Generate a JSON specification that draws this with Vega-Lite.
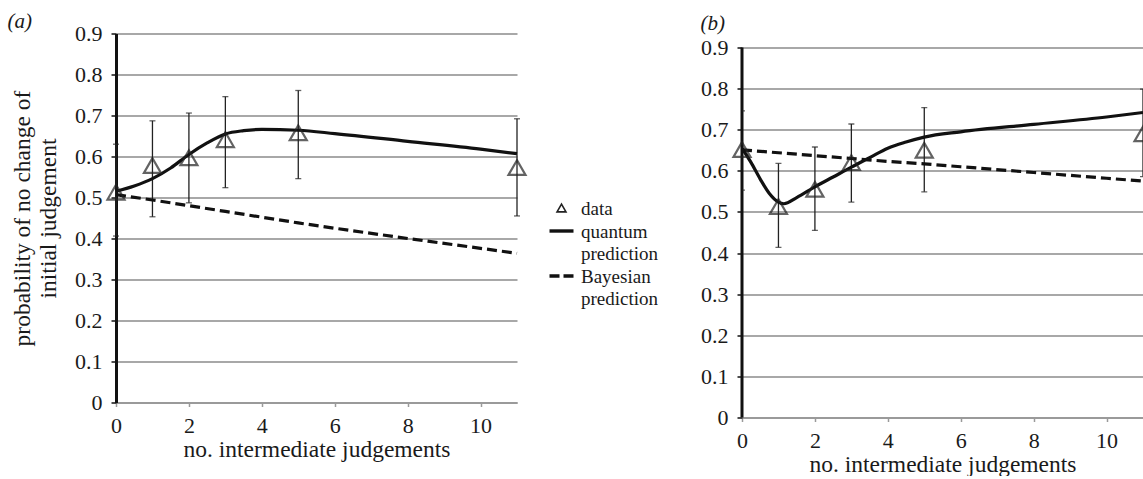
{
  "$schema": "https://vega.github.io/schema/vega-lite/v6.json",
  "background": "white",
  "padding": {"left": 7, "top": 10.5, "right": 0, "bottom": 0},
  "spacing": 41,
  "config": {
    "font": "Liberation Serif",
    "view": {"stroke": null},
    "axis": {"labelFont": "Liberation Serif", "titleFont": "Liberation Serif", "labelFontSize": 22, "titleFontSize": 23.5, "titleFontWeight": "normal", "labelColor": "#1a1a1a", "titleColor": "#1a1a1a", "labelFlush": false},
    "axisX": {"domainColor": "#9a9a9a", "domainWidth": 2, "tickColor": "#9a9a9a", "tickSize": 4, "tickWidth": 1.5, "labelPadding": 8.5, "titlePadding": 1, "grid": false},
    "axisY": {"domainColor": "#111111", "domainWidth": 3, "tickColor": "#111111", "tickSize": 5, "tickWidth": 1.5, "labelPadding": 9, "titlePadding": 14, "grid": true, "gridColor": "#a8a8a8", "gridWidth": 2, "titleLineHeight": 26},
    "title": {"font": "Liberation Serif", "fontSize": 21, "fontWeight": "normal", "fontStyle": "italic", "color": "#1a1a1a"}
  },
  "datasets": {
    "a_points": [
      {"x": 0, "y": 0.513, "lo": 0.406, "hi": 0.630, "series": "data"},
      {"x": 1, "y": 0.578, "lo": 0.453, "hi": 0.687, "series": "data"},
      {"x": 2, "y": 0.597, "lo": 0.487, "hi": 0.706, "series": "data"},
      {"x": 3, "y": 0.641, "lo": 0.524, "hi": 0.746, "series": "data"},
      {"x": 5, "y": 0.658, "lo": 0.546, "hi": 0.761, "series": "data"},
      {"x": 11, "y": 0.573, "lo": 0.455, "hi": 0.692, "series": "data"}
    ],
    "a_quantum": [
      {"x": 0, "y": 0.515, "series": "quantum prediction"},
      {"x": 0.5, "y": 0.528, "series": "quantum prediction"},
      {"x": 1, "y": 0.546, "series": "quantum prediction"},
      {"x": 1.5, "y": 0.572, "series": "quantum prediction"},
      {"x": 2, "y": 0.605, "series": "quantum prediction"},
      {"x": 2.5, "y": 0.633, "series": "quantum prediction"},
      {"x": 3, "y": 0.655, "series": "quantum prediction"},
      {"x": 3.5, "y": 0.663, "series": "quantum prediction"},
      {"x": 4, "y": 0.666, "series": "quantum prediction"},
      {"x": 5, "y": 0.664, "series": "quantum prediction"},
      {"x": 6, "y": 0.656, "series": "quantum prediction"},
      {"x": 8, "y": 0.637, "series": "quantum prediction"},
      {"x": 10, "y": 0.618, "series": "quantum prediction"},
      {"x": 11, "y": 0.607, "series": "quantum prediction"}
    ],
    "a_bayes": [
      {"x": 0, "y": 0.507, "series": "Bayesian prediction"},
      {"x": 1, "y": 0.494, "series": "Bayesian prediction"},
      {"x": 2, "y": 0.480, "series": "Bayesian prediction"},
      {"x": 3, "y": 0.466, "series": "Bayesian prediction"},
      {"x": 4, "y": 0.452, "series": "Bayesian prediction"},
      {"x": 5, "y": 0.438, "series": "Bayesian prediction"},
      {"x": 6, "y": 0.425, "series": "Bayesian prediction"},
      {"x": 8, "y": 0.400, "series": "Bayesian prediction"},
      {"x": 10, "y": 0.376, "series": "Bayesian prediction"},
      {"x": 11, "y": 0.364, "series": "Bayesian prediction"}
    ],
    "b_points": [
      {"x": 0, "y": 0.652, "lo": 0.553, "hi": 0.746},
      {"x": 1, "y": 0.513, "lo": 0.414, "hi": 0.618},
      {"x": 2, "y": 0.555, "lo": 0.455, "hi": 0.658},
      {"x": 3, "y": 0.620, "lo": 0.524, "hi": 0.714},
      {"x": 5, "y": 0.650, "lo": 0.549, "hi": 0.754},
      {"x": 11, "y": 0.690, "lo": 0.586, "hi": 0.799}
    ],
    "b_quantum": [
      {"x": 0, "y": 0.655},
      {"x": 0.25, "y": 0.620},
      {"x": 0.5, "y": 0.580},
      {"x": 0.75, "y": 0.545},
      {"x": 1, "y": 0.524},
      {"x": 1.15, "y": 0.520},
      {"x": 1.5, "y": 0.535},
      {"x": 2, "y": 0.561},
      {"x": 2.5, "y": 0.585},
      {"x": 3, "y": 0.609},
      {"x": 3.5, "y": 0.632},
      {"x": 4, "y": 0.655},
      {"x": 4.5, "y": 0.670},
      {"x": 5, "y": 0.682},
      {"x": 6, "y": 0.695},
      {"x": 8, "y": 0.713},
      {"x": 10, "y": 0.731},
      {"x": 11, "y": 0.742}
    ],
    "b_bayes": [
      {"x": 0, "y": 0.651},
      {"x": 1, "y": 0.644},
      {"x": 2, "y": 0.637},
      {"x": 3, "y": 0.630},
      {"x": 4, "y": 0.623},
      {"x": 5, "y": 0.617},
      {"x": 6, "y": 0.610},
      {"x": 8, "y": 0.596},
      {"x": 10, "y": 0.582},
      {"x": 11, "y": 0.575}
    ]
  },
  "resolve": {"scale": {"color": "independent"}, "legend": {"color": "independent"}},
  "hconcat": [
    {
      "title": {"text": "(a)", "anchor": "start", "frame": "bounds", "offset": -9.5, "dx": -3},
      "width": 401,
      "height": 369,
      "layer": [
        {
          "data": {"name": "a_points"},
          "mark": {"type": "rule", "color": "#222222", "strokeWidth": 1.3},
          "encoding": {
            "x": {"field": "x", "type": "quantitative", "scale": {"domain": [0, 11], "nice": false}, "axis": {"title": "no. intermediate judgements", "values": [0, 2, 4, 6, 8, 10]}},
            "y": {"field": "lo", "type": "quantitative", "scale": {"domain": [0, 0.9], "nice": false}, "axis": {"title": ["probability of no change of", "initial judgement"], "values": [0, 0.1, 0.2, 0.3, 0.4, 0.5, 0.6, 0.7, 0.8, 0.9], "format": "~g"}},
            "y2": {"field": "hi"}
          }
        },
        {
          "data": {"name": "a_points"},
          "mark": {"type": "tick", "orient": "horizontal", "color": "#222222", "size": 6, "thickness": 1.3},
          "encoding": {"x": {"field": "x", "type": "quantitative"}, "y": {"field": "lo", "type": "quantitative"}}
        },
        {
          "data": {"name": "a_points"},
          "mark": {"type": "tick", "orient": "horizontal", "color": "#222222", "size": 6, "thickness": 1.3},
          "encoding": {"x": {"field": "x", "type": "quantitative"}, "y": {"field": "hi", "type": "quantitative"}}
        },
        {
          "data": {"name": "a_bayes"},
          "mark": {"type": "line", "strokeWidth": 3.2, "strokeDash": [10, 5]},
          "encoding": {
            "x": {"field": "x", "type": "quantitative"},
            "y": {"field": "y", "type": "quantitative"},
            "color": {
              "field": "series", "type": "nominal",
              "scale": {"domain": ["data", "quantum prediction", "Bayesian prediction"], "range": ["#222222", "#111111", "#111111"]},
              "legend": {
                "orient": "none", "legendX": 436, "legendY": 165, "title": null,
                "symbolSize": 576, "labelFontSize": 19, "labelFont": "Liberation Serif", "labelColor": "#1a1a1a",
                "labelOffset": 10, "labelBaseline": "alphabetic", "labelLimit": 300, "rowPadding": 2, "padding": 0,
                "labelExpr": "datum.label == 'data' ? 'data' : split(datum.label, ' ')",
                "encode": {
                  "symbols": {"update": {
                    "shape": {"signal": "datum.value === 'data' ? 'triangle-up' : 'stroke'"},
                    "size": {"signal": "datum.value === 'data' ? 80 : 576"},
                    "strokeDash": {"signal": "datum.value === 'Bayesian prediction' ? [10, 4] : null"},
                    "strokeWidth": {"signal": "datum.value === 'data' ? 1.6 : 3.4"},
                    "stroke": {"value": "#111111"},
                    "fill": {"value": "transparent"},
                    "opacity": {"value": 1}
                  }},
                  "labels": {"update": {"dy": {"value": 7}, "lineHeight": {"value": 22}}}
                }
              }
            }
          }
        },
        {
          "data": {"name": "a_quantum"},
          "mark": {"type": "line", "strokeWidth": 3.2, "interpolate": "monotone"},
          "encoding": {
            "x": {"field": "x", "type": "quantitative"},
            "y": {"field": "y", "type": "quantitative"},
            "color": {"field": "series", "type": "nominal"}
          }
        },
        {
          "data": {"name": "a_points"},
          "mark": {"type": "point", "shape": "triangle-up", "filled": false, "size": 290, "strokeWidth": 2.2},
          "encoding": {
            "x": {"field": "x", "type": "quantitative"},
            "y": {"field": "y", "type": "quantitative"},
            "color": {"field": "series", "type": "nominal"}
          }
        }
      ]
    },
    {
      "title": {"text": "(b)", "anchor": "start", "frame": "bounds", "offset": 0, "dx": 0},
      "width": 401,
      "height": 384,
      "layer": [
        {
          "data": {"name": "b_points"},
          "mark": {"type": "rule", "color": "#222222", "strokeWidth": 1.3, "clip": true},
          "encoding": {
            "x": {"field": "x", "type": "quantitative", "scale": {"domain": [0, 11], "nice": false}, "axis": {"title": "no. intermediate judgements", "values": [0, 2, 4, 6, 8, 10]}},
            "y": {"field": "lo", "type": "quantitative", "scale": {"domain": [0, 0.9341], "nice": false}, "axis": {"title": null, "domain": false, "values": [0, 0.1, 0.2, 0.3, 0.4, 0.5, 0.6, 0.7, 0.8, 0.9], "format": "~g"}},
            "y2": {"field": "hi"}
          }
        },
        {
          "data": {"values": [{}]},
          "mark": {"type": "rule", "color": "#111111", "strokeWidth": 3},
          "encoding": {
            "x": {"datum": 0, "type": "quantitative"},
            "y": {"datum": 0, "type": "quantitative"},
            "y2": {"datum": 0.9}
          }
        },
        {
          "data": {"name": "b_points"},
          "mark": {"type": "tick", "orient": "horizontal", "color": "#222222", "size": 6, "thickness": 1.3, "clip": true},
          "encoding": {"x": {"field": "x", "type": "quantitative"}, "y": {"field": "lo", "type": "quantitative"}}
        },
        {
          "data": {"name": "b_points"},
          "mark": {"type": "tick", "orient": "horizontal", "color": "#222222", "size": 6, "thickness": 1.3, "clip": true},
          "encoding": {"x": {"field": "x", "type": "quantitative"}, "y": {"field": "hi", "type": "quantitative"}}
        },
        {
          "data": {"name": "b_bayes"},
          "mark": {"type": "line", "strokeWidth": 3.2, "strokeDash": [10, 5], "color": "#111111", "clip": true},
          "encoding": {"x": {"field": "x", "type": "quantitative"}, "y": {"field": "y", "type": "quantitative"}}
        },
        {
          "data": {"name": "b_quantum"},
          "mark": {"type": "line", "strokeWidth": 3.2, "interpolate": "monotone", "color": "#111111", "clip": true},
          "encoding": {"x": {"field": "x", "type": "quantitative"}, "y": {"field": "y", "type": "quantitative"}}
        },
        {
          "data": {"name": "b_points"},
          "transform": [{"filter": "datum.x < 11"}],
          "mark": {"type": "point", "shape": "triangle-up", "filled": false, "size": 290, "strokeWidth": 2.2, "color": "#222222"},
          "encoding": {"x": {"field": "x", "type": "quantitative"}, "y": {"field": "y", "type": "quantitative"}}
        },
        {
          "data": {"name": "b_points"},
          "transform": [{"filter": "datum.x >= 11"}],
          "mark": {"type": "point", "shape": "triangle-up", "filled": false, "size": 290, "strokeWidth": 2.2, "color": "#222222", "clip": true},
          "encoding": {"x": {"field": "x", "type": "quantitative"}, "y": {"field": "y", "type": "quantitative"}}
        }
      ]
    }
  ]
}
